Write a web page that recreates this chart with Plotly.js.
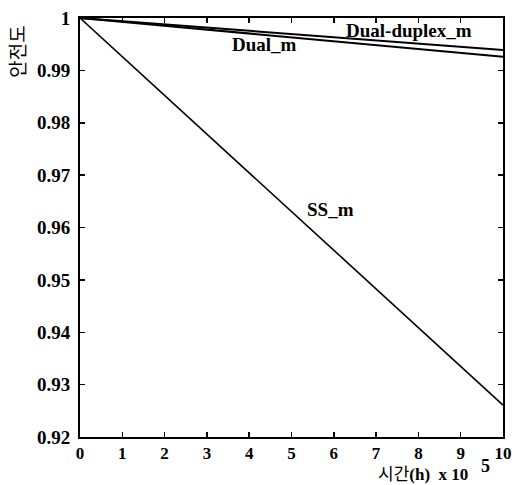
<!DOCTYPE html>
<html>
<head>
<meta charset="utf-8">
<script src="https://cdn.plot.ly/plotly-3.0.1.min.js"></script>
<style>html,body{margin:0;padding:0;background:#fff;}#chart{width:520px;height:485px;}</style>
</head>
<body>
<div id="chart"></div>
<script>
// time in units of 10^5 h
const timeX = [0, 1, 2, 3, 4, 5, 6, 7, 8, 9, 10];
const ssM = [1, 0.9926, 0.9852, 0.9778, 0.9704, 0.9630, 0.9557, 0.9483, 0.9409, 0.9335, 0.9261];
const dualM = [1, 0.99926, 0.99852, 0.99778, 0.99704, 0.9963, 0.99556, 0.99482, 0.99408, 0.99334, 0.9926];
const dualDuplexM = [1, 0.99939, 0.99878, 0.99817, 0.99756, 0.99695, 0.99634, 0.99573, 0.99512, 0.99451, 0.9939];
const seriesNames = ["SS_m", "Dual_m", "Dual-duplex_m"];
const xTicks = [0, 1, 2, 3, 4, 5, 6, 7, 8, 9, 10];
const yTicks = [0.92, 0.93, 0.94, 0.95, 0.96, 0.97, 0.98, 0.99, 1];
const yTickText = ["0.92", "0.93", "0.94", "0.95", "0.96", "0.97", "0.98", "0.99", "1"];

const serif = "Liberation Serif, Times New Roman, serif";
const kr = "Noto Sans CJK KR, sans-serif";

const traces = [
  {x: timeX, y: ssM, name: seriesNames[0], mode: "lines", line: {color: "#000", width: 1.6}},
  {x: timeX, y: dualM, name: seriesNames[1], mode: "lines", line: {color: "#000", width: 2}},
  {x: timeX, y: dualDuplexM, name: seriesNames[2], mode: "lines", line: {color: "#000", width: 2}}
];

const axisCommon = {
  showgrid: false, zeroline: false, showline: true, linecolor: "#000", linewidth: 2,
  mirror: "allticks", ticks: "inside", ticklen: 5, tickwidth: 1.5, tickcolor: "#000",
  tickfont: {family: serif, size: 19, color: "#000", weight: "bold"}
};

const layout = {
  width: 520, height: 485,
  margin: {l: 80, r: 17, t: 18, b: 48},
  paper_bgcolor: "#fff", plot_bgcolor: "#fff",
  showlegend: false,
  xaxis: Object.assign({}, axisCommon, {range: [0, 10], tickvals: xTicks, ticktext: xTicks.map(String),
    tickfont: {family: serif, size: 17, color: "#000", weight: "bold"}}),
  yaxis: Object.assign({}, axisCommon, {range: [0.92, 1], tickvals: yTicks, ticktext: yTickText, ticklabelstandoff: 4}),
  annotations: [
    {xref: "x", yref: "y", x: 7.78, y: 0.99753, text: "<b>Dual-duplex_m</b>", showarrow: false,
     xanchor: "center", yanchor: "middle", font: {family: serif, size: 19, color: "#000"}},
    {xref: "x", yref: "y", x: 4.35, y: 0.99487, text: "<b>Dual_m</b>", showarrow: false,
     xanchor: "center", yanchor: "middle", font: {family: serif, size: 19, color: "#000"}},
    {xref: "x", yref: "y", x: 5.93, y: 0.9635, text: "<b>SS_m</b>", showarrow: false,
     xanchor: "center", yanchor: "middle", font: {family: serif, size: 19, color: "#000"}},
    {xref: "paper", yref: "paper", x: 0.811, y: -0.085, showarrow: false, xanchor: "center", yanchor: "middle",
     text: "<span style=\"font-family:Noto Sans CJK KR\">시간</span><b>(h)  x 10</b>",
     font: {family: serif, size: 17, color: "#000"}},
    {xref: "paper", yref: "paper", x: 0.958, y: -0.07, showarrow: false, xanchor: "center", yanchor: "middle",
     text: "<b>5</b>", font: {family: serif, size: 18, color: "#000"}},
    {xref: "paper", yref: "paper", x: -0.151, y: 0.92, showarrow: false, xanchor: "center", yanchor: "middle",
     text: "안전도", textangle: -90, font: {family: kr, size: 19, color: "#000"}}
  ]
};

Plotly.newPlot("chart", traces, layout, {staticPlot: true, displayModeBar: false});
</script>
</body>
</html>
